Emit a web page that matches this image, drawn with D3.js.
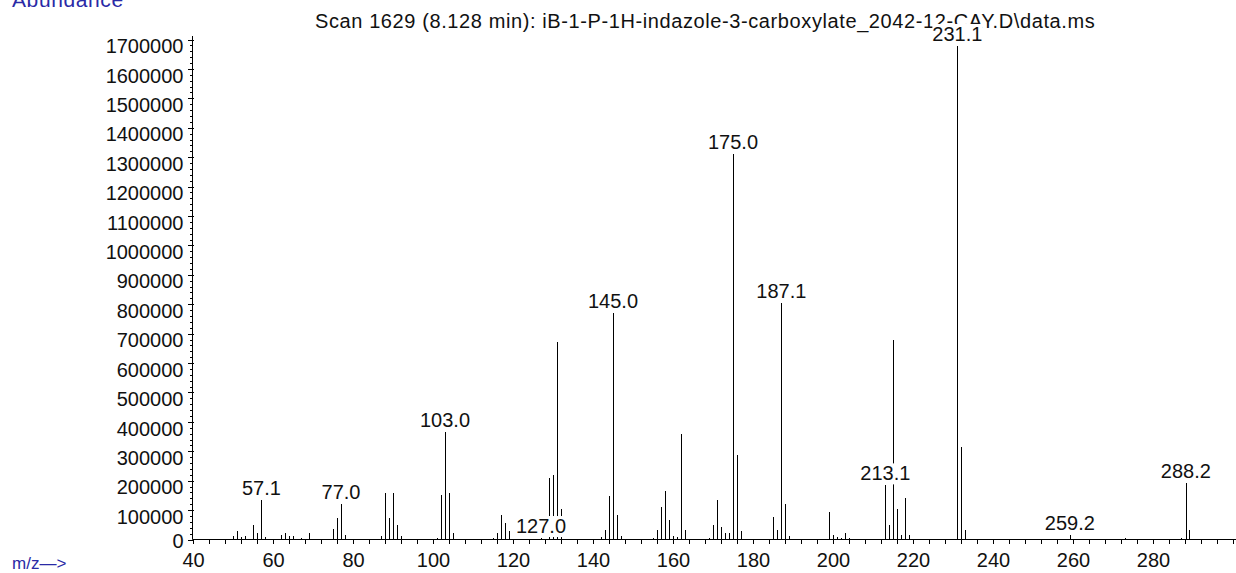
<!DOCTYPE html>
<html><head><meta charset="utf-8">
<script src="https://cdn.jsdelivr.net/npm/d3@7"></script>
<style>
body{margin:0;background:#fff;overflow:hidden}
text{font-family:"Liberation Sans",Arial,sans-serif}
</style>
</head><body>
<svg id="chart" width="1236" height="573"></svg>
<script>
// ---- data ----
const chartTitle = "Scan 1629 (8.128 min): iB-1-P-1H-indazole-3-carboxylate_2042-12-CAY.D\\data.ms";
const yAxisTitle = "Abundance";
const xAxisTitle = "m/z\u2014>";
const peakMz = [50,51,52,53,55,56,57.1,58,62,63,64,65,67,69,75,76,77.0,78,87,88,89,90,91,92,
  101,102,103.0,104,105,115,116,117,118,119,127.0,129,130,131,132,142,143,144,145.0,146,147,
  155,156,157,158,159,160,161,162,163,169,170,171,172,173,174,175.0,176,177,185,186,187.1,188,189,
  199,200,201,202,203,204,213.1,214,215,216,217,218,219,231.1,232,233,259.2,273,287,288.2,289];
const peakAbundance = [11000,28000,8000,11000,50000,23000,136000,7000,17000,23000,11000,11000,4000,23000,35000,72000,120000,17000,11000,159000,72000,159000,50000,11000,
  6000,150000,364000,158000,22000,5000,23000,83000,56000,28000,5000,210000,219000,670000,104000,7000,33000,148000,771000,83000,11000,
  6000,33000,110000,164000,66000,12000,7000,359000,33000,6000,50000,136000,44000,21000,21000,1312000,288000,28000,77000,33000,803000,120000,12000,
  93000,17000,8000,6000,21000,6000,184000,50000,677000,104000,17000,142000,17000,1678000,314000,33000,15000,4000,6000,191000,33000];
const labeledPeaks = [57.1,77.0,103.0,127.0,145.0,175.0,187.1,213.1,231.1,259.2,288.2];
const xTickLabels = [40,60,80,100,120,140,160,180,200,220,240,260,280];
const yTickLabels = [0,100000,200000,300000,400000,500000,600000,700000,800000,900000,1000000,1100000,1200000,1300000,1400000,1500000,1600000,1700000];

// ---- drawing ----
const svg = d3.select("#chart");
const FS = 20;
const x = d3.scaleLinear().domain([40, 300]).range([193, 1233]);
const y = d3.scaleLinear().domain([0, 1700000]).range([539.5, 39.5]);
const blue = "#2a2aa6";

// title
svg.append("text").attr("x", 315).attr("y", 28).attr("font-size", FS)
  .attr("letter-spacing", 0.6).attr("fill", "#111").text(chartTitle);

// axis titles
svg.append("text").attr("x", 12).attr("y", 7).attr("font-size", FS+1).attr("letter-spacing", 0.6)
  .attr("fill", blue).text(yAxisTitle);
svg.append("text").attr("x", 12).attr("y", 569).attr("font-size", FS-3).attr("fill", blue).text(xAxisTitle);

// peaks
const peaks = peakMz.map((m, i) => ({mz: m, ab: peakAbundance[i]}));
svg.append("g").selectAll("line").data(peaks).join("line")
  .attr("x1", d => Math.round(x(d.mz)) + 0.5).attr("x2", d => Math.round(x(d.mz)) + 0.5)
  .attr("y1", y(0)).attr("y2", d => y(d.ab))
  .attr("stroke", "#000").attr("stroke-width", 1).attr("shape-rendering", "crispEdges");

// x axis
const xAxis = d3.axisBottom(x)
  .tickValues(d3.range(40, 301, 4))
  .tickSize(4).tickSizeOuter(0)
  .tickFormat(d => xTickLabels.includes(d) ? String(d) : "");
const gx = svg.append("g").attr("transform", "translate(0,539.5)").call(xAxis);
gx.select(".domain").attr("d", "M192.5,0H1236").attr("stroke", "#000");
gx.selectAll(".tick line").attr("stroke", "#000").attr("shape-rendering", "crispEdges");
gx.selectAll(".tick text").attr("font-size", FS).attr("font-family", null).attr("fill", "#111").attr("dy", "1.0em");

// y axis
const yAxis = d3.axisLeft(y)
  .tickValues(d3.range(0, 1700001, 20000))
  .tickSize(3).tickSizeOuter(0)
  .tickFormat(d => yTickLabels.includes(d) ? String(d) : "");
const gy = svg.append("g").attr("transform", "translate(192.5,0)").call(yAxis);
gy.select(".domain").attr("d", "M0,539.5V36").attr("stroke", "#000");
gy.selectAll(".tick line").attr("stroke", "#000").attr("shape-rendering", "crispEdges")
  .attr("x1", d => yTickLabels.includes(d) ? 1.5 : 0)
  .attr("x2", d => yTickLabels.includes(d) ? -5 : -3);
gy.selectAll(".tick text").attr("font-size", FS).attr("font-family", null).attr("fill", "#111")
  .attr("x", -9).attr("dy", d => d === 0 ? "0.4em" : "0.66em");

// peak labels with white background
const lg = svg.append("g");
labeledPeaks.forEach(m => {
  const p = peaks.find(d => d.mz === m);
  const g = lg.append("g");
  const t = g.append("text").attr("x", x(m)).attr("y", y(p.ab) - 5)
    .attr("text-anchor", "middle").attr("font-size", FS).attr("fill", "#111")
    .text(m.toFixed(1));
  const b = t.node().getBBox();
  g.insert("rect", "text").attr("x", b.x).attr("y", b.y + 1).attr("width", b.width).attr("height", b.height - 1)
    .attr("fill", "#fff");
});
</script>
</body></html>
